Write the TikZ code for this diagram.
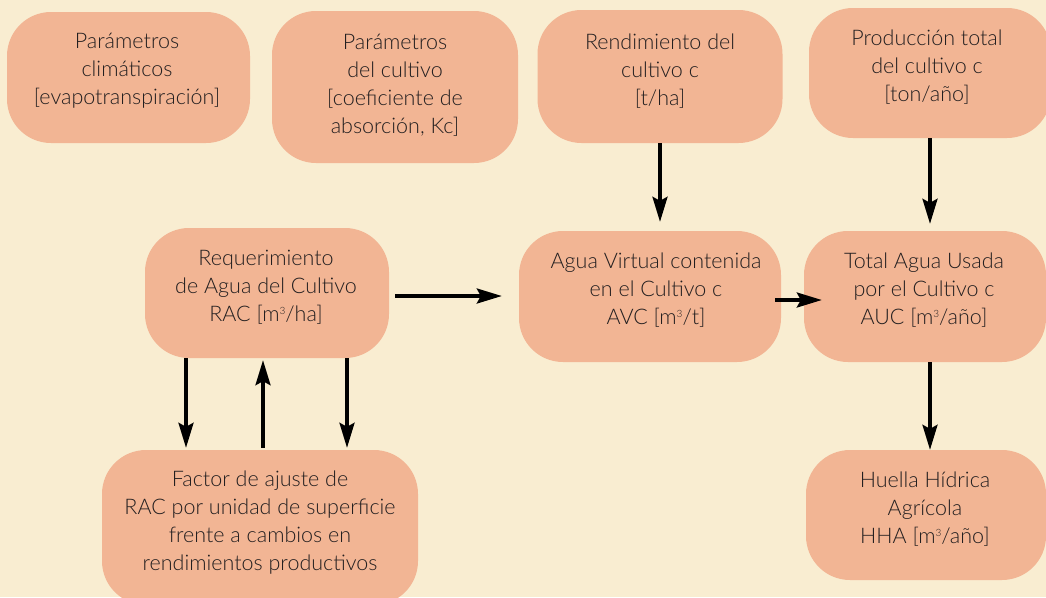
\documentclass[tikz,border=0pt]{standalone}
\usepackage{fontspec}
\setmainfont{Lato}[UprightFont=* Light]
\usetikzlibrary{arrows.meta}
\definecolor{bg}{HTML}{F9EDD1}
\definecolor{boxc}{HTML}{F2B594}
\definecolor{ink}{HTML}{231F20}
\newcommand{\cubed}{\raisebox{0.62ex}{\fontsize{10pt}{10pt}\selectfont 3}}
\begin{document}
\begin{tikzpicture}[x=1pt,y=-1pt,
  box/.style 2 args={fill=boxc,draw=none,rounded corners=44pt,minimum width=#1,minimum height=#2,inner sep=0pt},
  txt/.style={align=center,inner sep=0pt,text=ink,font=\fontsize{21.5pt}{28pt}\selectfont},
  arr/.style={-{Stealth[length=25pt,width=15pt,inset=4pt]},line width=3.2pt,draw=black}]
\useasboundingbox (0,0) rectangle (1046,597);
\fill[bg] (0,0) rectangle (1046,597);
\clip (0,0) rectangle (1046,597);
% boxes
\node[box={243pt}{131pt}] (b1) at (128.5,77.5) {};
\node[box={246pt}{152pt}] (b2) at (395,87) {};
\node[box={245pt}{133pt}] (b3) at (660,76.5) {};
\node[box={242pt}{130pt}] (b4) at (930,73) {};
\node[box={244pt}{130pt}] (rac) at (267,293) {};
\node[box={316pt}{155pt}] (fac) at (260,527.5) {};
\node[box={262pt}{131pt}] (avc) at (650,296.5) {};
\node[box={242pt}{131pt}] (auc) at (925,296.5) {};
\node[box={240pt}{130pt}] (hha) at (926,515) {};
% texts
\node[txt] (t1) at (127,71) {Parámetros\\climáticos\\{[}evapotranspiración{]}};
\node[txt] (t2) at (395,85) {Parámetros\\del cultivo\\{[}coeficiente de\\absorción, Kc{]}};
\node[txt] (t3) at (660,71) {Rendimiento del\\cultivo c\\{[}t/ha{]}};
\node[txt] (t4) at (927,67) {Producción total\\del cultivo c\\{[}ton/año{]}};
\node[txt] (trac) at (266,287) {Requerimiento\\de Agua del Cultivo\\RAC {[}m\cubed/ha{]}};
\node[txt] (tfac) at (260,523) {Factor de ajuste de\\RAC por unidad de superficie\\frente a cambios en\\rendimientos productivos};
\node[txt] (tavc) at (656,290) {Agua Virtual contenida\\en el Cultivo c\\AVC {[}m\cubed/t{]}};
\node[txt] (tauc) at (924,290) {Total Agua Usada\\por el Cultivo c\\AUC {[}m\cubed/año{]}};
\node[txt] (thha) at (925,509) {Huella Hídrica\\Agrícola\\HHA {[}m\cubed/año{]}};
% helper coordinates
\coordinate (avcN) at ([yshift=9pt]avc.north);
\coordinate (aucN) at ([yshift=7pt]auc.north);
\coordinate (facN) at ([yshift=2pt]fac.north);
\coordinate (racS) at ([yshift=-2pt]rac.south);
\coordinate (racL) at ([xshift=-81pt]rac.south);
\coordinate (racM) at ([xshift=-4pt]rac.south);
\coordinate (racR) at ([xshift=80pt]rac.south);
\coordinate (aucS) at ([xshift=5pt]auc.south);
% arrows
\draw[arr] (b3.south) -- (b3.south |- avcN);
\draw[arr] (b4.south) -- (b4.south |- aucN);
\draw[arr] (aucS) -- (aucS |- hha.north);
\draw[arr] ([xshift=6pt,yshift=-3pt]rac.east) -- ([xshift=-17pt,yshift=0.5pt]avc.west);
\draw[arr] ([xshift=-6pt,yshift=-3.5pt]avc.east) -- ([xshift=18pt,yshift=-3.5pt]auc.west);
\draw[arr] (racL) -- (racL |- facN);
\draw[arr] (racM |- facN) -- (racM |- racS);
\draw[arr] (racR) -- (racR |- facN);
\end{tikzpicture}
\end{document}
